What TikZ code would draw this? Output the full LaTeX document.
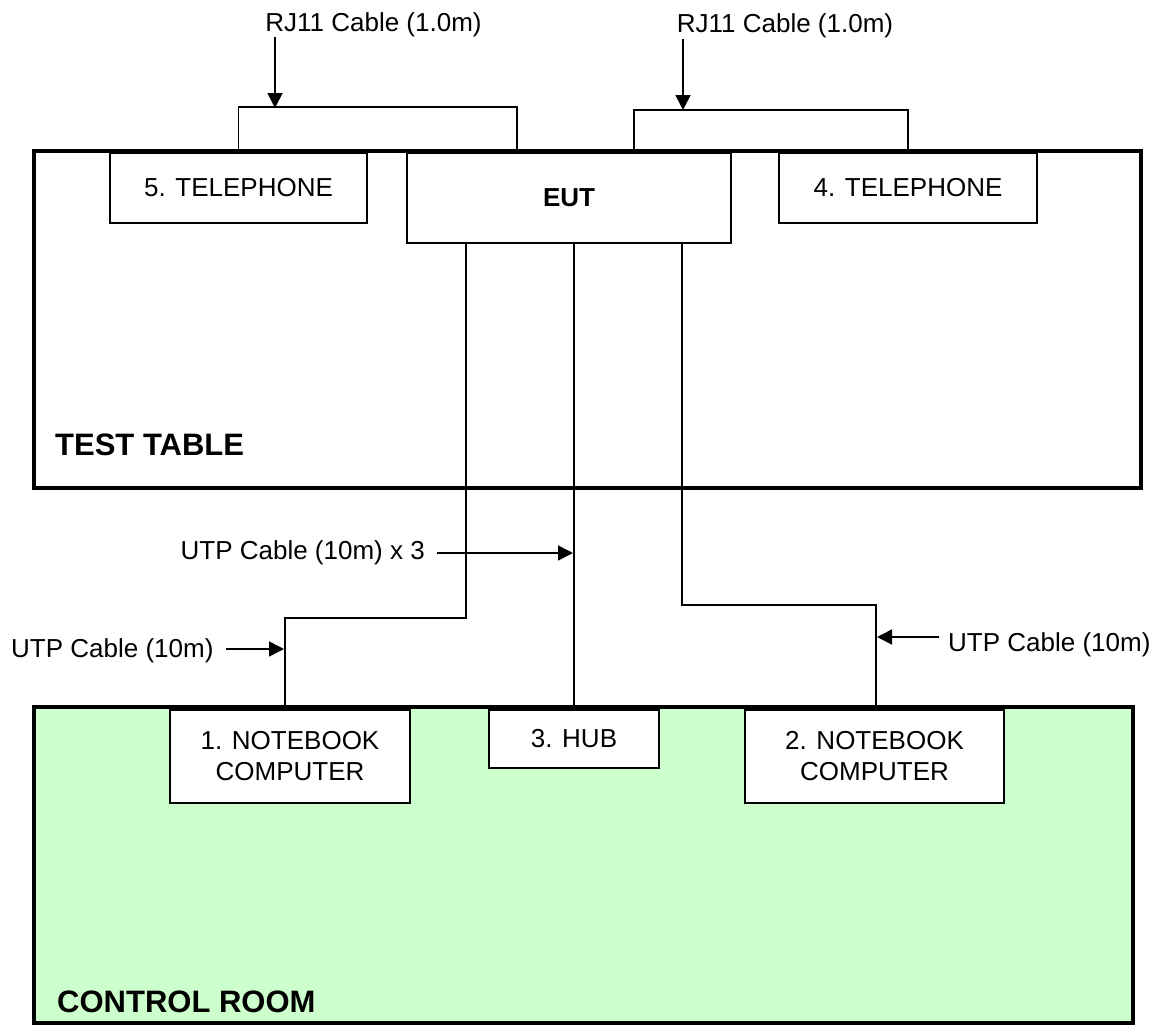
\documentclass[tikz,border=0pt]{standalone}
\usepackage{fontspec}
\setmainfont{Liberation Sans}
\usetikzlibrary{arrows.meta}
\definecolor{roomgreen}{HTML}{CCFFCC}
\begin{document}
\begin{tikzpicture}[x=1pt,y=-1pt,
  lbl/.style={font=\fontsize{26}{31}\selectfont, inner sep=0pt},
  ttl/.style={font=\fontsize{31}{36}\selectfont\bfseries, inner sep=0pt, anchor=base west},
  dev/.style={draw, line width=1.6pt, fill=white, font=\fontsize{26}{31}\selectfont, align=center, inner sep=0pt},
  wire/.style={line width=1.6pt},
  pointer/.style={line width=1.6pt, -{Triangle[length=15pt,width=15pt]}},
  frame/.style={line width=4.5pt}]
\useasboundingbox (0,0) rectangle (1156,1025);

% areas
\draw[frame] (34,151) rectangle (1141,488);
\draw[frame, fill=roomgreen] (34,707) rectangle (1133,1023);
\node[ttl] (tt) at (55,455) {TEST TABLE};
\node[ttl] (cr) at (57,1012) {CONTROL ROOM};

% named points on the cables
\coordinate (eutL) at (517,153);
\coordinate (eutR) at (634,153);
\coordinate (eA) at (466,243);
\coordinate (bA1) at (466,618);
\coordinate (bA2) at (285,618);
\coordinate (nA) at (285,707);
\coordinate (eC) at (682,243);
\coordinate (bC1) at (682,605);
\coordinate (bC2) at (876,605);
\coordinate (nC) at (876,707);

% devices
\node[dev, minimum width=257pt, minimum height=70pt] (tel5) at (238.5,188) {5. TELEPHONE};
\node[dev, minimum width=324pt, minimum height=90pt, font=\fontsize{26}{31}\selectfont\bfseries] (eut) at (569,198) {EUT};
\node[dev, minimum width=258pt, minimum height=70pt] (tel4) at (908,188) {4. TELEPHONE};
\node[dev, minimum width=240pt, minimum height=93pt] (nb1) at (290,756.5) {1. NOTEBOOK\\COMPUTER};
\node[dev, minimum width=170pt, minimum height=58pt] (hub) at (574,739) {3. HUB};
\node[dev, minimum width=259pt, minimum height=93pt] (nb2) at (874.5,756.5) {2. NOTEBOOK\\COMPUTER};

% RJ11 cables
\draw[wire] (tel5.north) -- ++(0,-45) -| (eutL);
\draw[wire] (eutR) -- ++(0,-43) -| (tel4.north);

% UTP cables
\draw[wire] (eA) -- (bA1) -- (bA2) -- (nA);
\draw[wire] (hub.north |- eut.south) -- (hub.north);
\draw[wire] (eC) -- (bC1) -- (bC2) -- (nC);

% labels
\node[lbl, anchor=base] (rj1) at (373.5,32) {RJ11 Cable (1.0m)};
\node[lbl, anchor=base] (rj2) at (785,33) {RJ11 Cable (1.0m)};
\node[lbl, anchor=base east] (utp3) at (425,559) {UTP Cable (10m) x 3};
\node[lbl, anchor=base west] (utpL) at (11,657) {UTP Cable (10m)};
\node[lbl, anchor=base west] (utpR) at (948,651) {UTP Cable (10m)};

% pointers
\coordinate (pA0) at (275,37);  \coordinate (pA1) at (275,108);
\coordinate (pB0) at (683,39);  \coordinate (pB1) at (683,110);
\coordinate (pC0) at (437,553); \coordinate (pC1) at (573,553);
\coordinate (pD0) at (226,649); \coordinate (pD1) at (284,649);
\coordinate (pE0) at (939,637); \coordinate (pE1) at (877,637);
\draw[pointer] (pA0) -- (pA1);
\draw[pointer] (pB0) -- (pB1);
\draw[pointer] (pC0) -- (pC1);
\draw[pointer] (pD0) -- (pD1);
\draw[pointer] (pE0) -- (pE1);
\end{tikzpicture}
\end{document}
